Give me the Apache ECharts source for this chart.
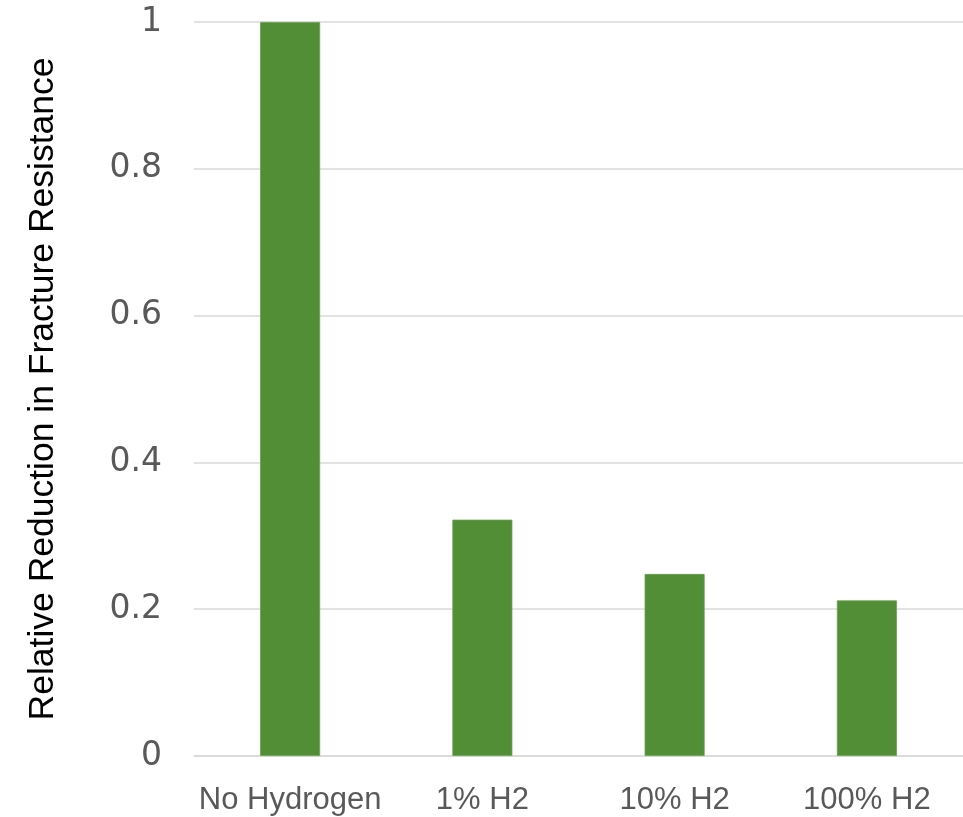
<!DOCTYPE html>
<html>
<head>
<meta charset="utf-8">
<script src="https://cdn.jsdelivr.net/npm/echarts@6/dist/echarts.min.js"></script>
<style>
  html, body { margin: 0; padding: 0; background: #ffffff; }
  #chart { width: 963px; height: 817px; }
</style>
</head>
<body>
<div id="chart"></div>
<script>
// Hydrogen exposure conditions and the normalized fracture resistance for each
const categories = ['No Hydrogen', '1% H2', '10% H2', '100% H2'];
const fractureValues = [1.0, 0.322, 0.248, 0.212];
const yTicks = [0, 0.2, 0.4, 0.6, 0.8, 1];
const yAxisTitle = 'Relative Reduction in Fracture Resistance';

const chart = echarts.init(document.getElementById('chart'), null, { renderer: 'canvas' });

chart.setOption({
  animation: false,
  backgroundColor: '#ffffff',
  grid: { left: 194, top: 22, width: 772, bottom: 61, containLabel: false },
  xAxis: {
    type: 'category',
    data: categories,
    axisLine: { show: true, lineStyle: { color: '#d9d9d9', width: 1.5 } },
    axisTick: { show: false },
    axisLabel: {
      interval: 0,
      color: '#595959',
      fontFamily: 'Liberation Sans',
      fontSize: 31,
      margin: 29
    }
  },
  yAxis: {
    type: 'value',
    min: yTicks[0],
    max: yTicks[yTicks.length - 1],
    interval: 0.2,
    name: yAxisTitle,
    nameLocation: 'middle',
    nameGap: 133,
    nameTextStyle: {
      color: '#000000',
      fontFamily: 'Liberation Sans',
      fontSize: 35.5
    },
    axisLine: { show: false },
    axisTick: { show: false },
    splitLine: { lineStyle: { color: '#d9d9d9', width: 1.5 } },
    axisLabel: {
      color: '#595959',
      fontFamily: 'DejaVu Sans',
      fontSize: 33,
      margin: 32,
      formatter: function (v) { return String(Math.round(v * 10) / 10); }
    }
  },
  series: [{
    type: 'bar',
    data: fractureValues,
    barWidth: 60,
    itemStyle: { color: '#528e35', borderColor: '#6a9f52', borderWidth: 0.8 }
  }]
});
</script>
</body>
</html>
